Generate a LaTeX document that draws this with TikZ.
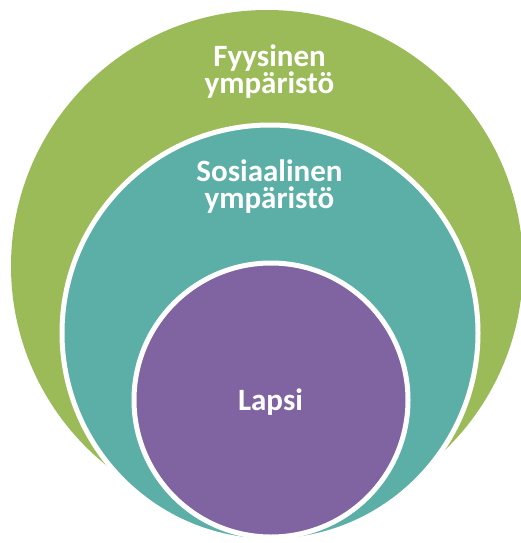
\documentclass[tikz,border=0pt]{standalone}
\usepackage{fontspec}
\setmainfont{Carlito}
\usepackage{xcolor}
\usepackage{tikz}
\usetikzlibrary{positioning}

\definecolor{physgreen}{RGB}{155,187,89}
\definecolor{socteal}{RGB}{92,175,166}
\definecolor{childpurple}{RGB}{128,100,162}

\begin{document}
\begin{tikzpicture}[x=1pt, y=-1pt,
    ring/.style={circle, inner sep=0pt, draw=white, line width=5pt},
    ringlabel/.style={text=white, align=center, font=\bfseries\fontsize{31}{27}\selectfont}]
          \useasboundingbox (0,0) rectangle (521,543);

          \node[ring, draw=none, fill=physgreen, minimum size=512pt] (phys) at (267,266) {};
          \node[ring, fill=socteal, minimum size=416pt] (soc) at (270,333) {};
          \node[ring, fill=childpurple, minimum size=274pt] (child) at (271,400) {};

          \node[ringlabel, anchor=base] (physlabel) at (269.5,93) {Fyysinen\\ympäristö};
          \node[ringlabel, anchor=base] (soclabel) at (269.5,208) {Sosiaalinen\\ympäristö};
          \node[ringlabel, anchor=base] (childlabel) at (270.5,410) {Lapsi};
        \end{tikzpicture}
\end{document}
